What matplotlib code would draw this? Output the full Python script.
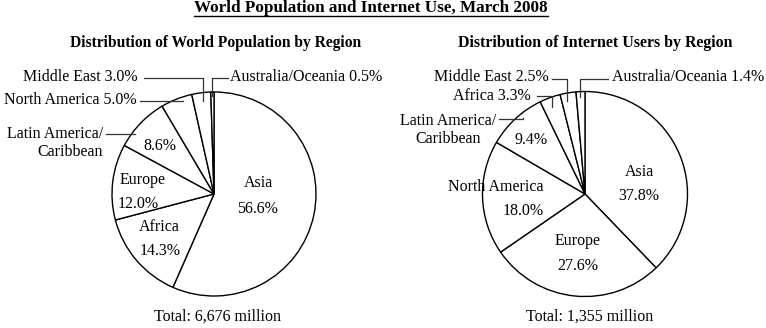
import numpy as np
import matplotlib
matplotlib.use('Agg')
import matplotlib.pyplot as plt
from matplotlib.lines import Line2D

# data
pop_regions = ['Asia', 'Africa', 'Europe', 'Latin America/\nCaribbean', 'North America', 'Middle East', 'Australia/Oceania']
pop_share = [56.6, 14.3, 12.0, 8.6, 5.0, 3.0, 0.5]
pop_total = '6,676'

net_regions = ['Asia', 'Europe', 'North America', 'Latin America/\nCaribbean', 'Africa', 'Middle East', 'Australia/Oceania']
net_share = [37.8, 27.6, 18.0, 9.4, 3.3, 2.5, 1.4]
net_total = '1,355'

W, H = 766, 328
plt.rcParams['font.family'] = ['Liberation Serif', 'DejaVu Serif']

fig = plt.figure(figsize=(W / 100, H / 100), dpi=100)
ax = fig.add_axes([0, 0, 1, 1])

def Y(y):
    return H - y  # pixel row -> data y

def draw_pie(vals, cx, cy, r):
    wedges, _ = ax.pie(vals, startangle=90, counterclock=False, center=(cx, Y(cy)), radius=r,
                       wedgeprops=dict(facecolor='white', edgecolor='black', linewidth=1.0))
    return wedges

def anchor(w, f, rf):
    a = np.deg2rad(w.theta1 + f * (w.theta2 - w.theta1))
    cx, cy = w.center
    return cx + rf * w.r * np.cos(a), cy + rf * w.r * np.sin(a)

def leader(w, f, rf, tx, ty):
    # elbow line: from text edge horizontally, then down into the wedge
    ax_, ay_ = anchor(w, f, rf)
    ax.add_line(Line2D([tx, ax_, ax_], [Y(ty), Y(ty), ay_], color='#333333', lw=0.9))

def label(s, x, y, ha='center', **kw):
    ax.text(x, Y(y), s, ha=ha, va='center', fontsize=fs, **kw)

fs = 11.5

# ---- left pie: world population
wl = draw_pie(pop_share, 214, 194, 102)
# name / value positions inside the wedges
inside_l = {0: ((258, 183), (258, 209)), 1: ((159, 227), (160, 251)), 2: ((143, 180), (138, 204))}
for i, (p1, p2) in inside_l.items():
    label(pop_regions[i], *p1)
    label(f'{pop_share[i]:.1f}%', *p2)
label(f'{pop_share[3]:.1f}%', 160, 146)
label(pop_regions[3], 103, 143, ha='right', linespacing=1.15)
leader(wl[3], 0.72, 0.97, 106, 134)
label(f'{pop_regions[4]} {pop_share[4]:.1f}%', 137, 100, ha='right')
leader(wl[4], 0.32, 0.96, 140, 101)
label(f'{pop_regions[5]} {pop_share[5]:.1f}%', 138, 77, ha='right')
leader(wl[5], 0.45, 0.92, 144, 78)
label(f'{pop_regions[6]} {pop_share[6]:.1f}%', 230, 77, ha='left')
leader(wl[6], 0.5, 0.96, 228, 78)

# ---- right pie: internet users
wr = draw_pie(net_share, 585, 194, 102.5)
inside_r = {0: ((639, 172), (639, 196)), 1: ((578, 241), (578, 266)), 2: ((496, 187), (523, 211))}
for i, (p1, p2) in inside_r.items():
    label(net_regions[i], *p1)
    label(f'{net_share[i]:.1f}%', *p2)
label(f'{net_share[3]:.1f}%', 531, 140)
label(net_regions[3], 448, 130, linespacing=1.15)
leader(wr[3], 0.39, 0.96, 499, 119)
label(f'{net_regions[4]} {net_share[4]:.1f}%', 531, 96, ha='right')
leader(wr[4], 0.55, 0.91, 537, 96)
label(f'{net_regions[5]} {net_share[5]:.1f}%', 549, 77, ha='right')
leader(wr[5], 0.66, 0.92, 552, 79)
label(f'{net_regions[6]} {net_share[6]:.1f}%', 612, 77, ha='left')
leader(wr[6], 0.6, 0.95, 608, 79)

# titles
title = ax.text(371, Y(8), 'World Population and Internet Use, March 2008', ha='center', va='center',
                fontsize=12.3, fontweight='bold')
ax.text(216, Y(43), 'Distribution of World Population by Region', ha='center', va='center',
        fontsize=11.2, fontweight='bold')
ax.text(595, Y(43), 'Distribution of Internet Users by Region', ha='center', va='center',
        fontsize=11.4, fontweight='bold')
label(f'Total: {pop_total} million', 217, 317)
label(f'Total: {net_total} million', 590, 317)

ax.set_xlim(0, W)
ax.set_ylim(0, H)
ax.set_aspect('equal')
ax.axis('off')

# underline the main title
fig.canvas.draw()
bb = title.get_window_extent().transformed(ax.transData.inverted())
ax.add_line(Line2D([bb.x0, bb.x1], [Y(15.5), Y(15.5)], color='black', lw=1.0))

fig.savefig('out.png', dpi=100)
